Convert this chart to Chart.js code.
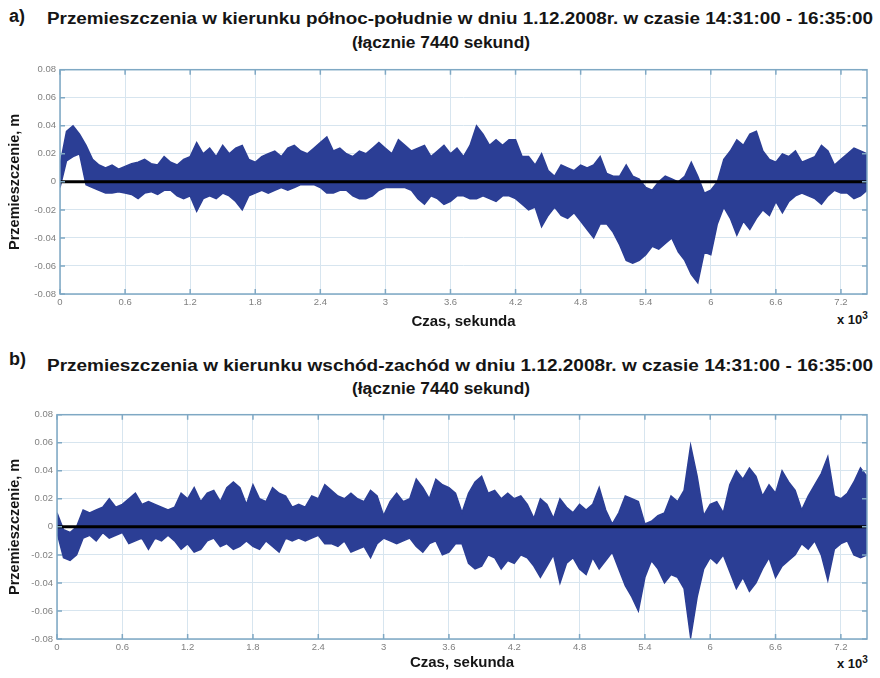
<!DOCTYPE html>
<html>
<head>
<meta charset="utf-8">
<script src="https://cdn.jsdelivr.net/npm/chart.js@4.4.0/dist/chart.umd.min.js"></script>
<style>
body{margin:0;background:#fff;width:880px;height:678px;position:relative;overflow:hidden;font-family:"Liberation Sans",Arial,sans-serif;color:#151515}
.t{position:absolute;font-weight:bold;white-space:nowrap;transform-origin:0 0}
canvas{position:absolute;left:0}
</style>
</head>
<body>
<div class="t" style="left:9px;top:6px;font-size:18px">a)</div>
<div class="t fit" data-w="826" style="left:47px;top:10px;font-size:16px">Przemieszczenia w kierunku północ-południe w dniu 1.12.2008r. w czasie 14:31:00 - 16:35:00</div>
<div class="t fit" data-w="178" style="left:352px;top:34px;font-size:16px">(łącznie 7440 sekund)</div>
<div class="t" style="left:837px;top:310px;font-size:13px">x 10<sup style="font-size:10px">3</sup></div>

<div class="t" style="left:9px;top:349px;font-size:18px">b)</div>
<div class="t fit" data-w="826" style="left:47px;top:357px;font-size:16px">Przemieszczenia w kierunku wschód-zachód w dniu 1.12.2008r. w czasie 14:31:00 - 16:35:00</div>
<div class="t fit" data-w="178" style="left:352px;top:380px;font-size:16px">(łącznie 7440 sekund)</div>
<div class="t" style="left:837px;top:654px;font-size:13px">x 10<sup style="font-size:10px">3</sup></div>

<canvas id="wykresA" width="880" height="280" style="top:60px"></canvas>
<canvas id="wykresB" width="880" height="273" style="top:405px"></canvas>

<script>
// czas w sekundach (co 60 s)
const czas = [0,60,120,180,240,300,360,420,480,540,
  600,660,720,780,840,900,960,1020,1080,1140,
  1200,1260,1320,1380,1440,1500,1560,1620,1680,1740,
  1800,1860,1920,1980,2040,2100,2160,2220,2280,2340,
  2400,2460,2520,2580,2640,2700,2760,2820,2880,2940,
  3000,3060,3120,3180,3240,3300,3360,3420,3480,3540,
  3600,3660,3720,3780,3840,3900,3960,4020,4080,4140,
  4200,4260,4320,4380,4440,4500,4560,4620,4680,4740,
  4800,4860,4920,4980,5040,5100,5160,5220,5280,5340,
  5400,5460,5520,5580,5640,5700,5760,5820,5880,5940,
  6000,6060,6120,6180,6240,6300,6360,6420,6480,6540,
  6600,6660,6720,6780,6840,6900,6960,7020,7080,7140,
  7200,7260,7320,7380,7440];

// a) polnoc-poludnie: gorna i dolna obwiednia przemieszczen [m]
const aGora = [0.012,0.036,0.040,0.034,0.026,0.016,0.012,0.010,0.012,0.009,
  0.011,0.013,0.014,0.016,0.013,0.012,0.018,0.014,0.012,0.016,
  0.018,0.028,0.020,0.024,0.018,0.026,0.020,0.024,0.026,0.016,
  0.014,0.018,0.020,0.022,0.018,0.024,0.026,0.022,0.020,0.024,
  0.028,0.032,0.022,0.024,0.020,0.018,0.022,0.020,0.024,0.028,
  0.024,0.020,0.030,0.026,0.022,0.024,0.026,0.018,0.022,0.026,
  0.020,0.024,0.018,0.026,0.040,0.034,0.026,0.030,0.026,0.030,
  0.030,0.018,0.018,0.012,0.020,0.008,0.004,0.012,0.010,0.008,
  0.012,0.010,0.012,0.018,0.006,0.004,0.004,0.012,0.004,0.002,
  -0.004,-0.006,0.000,0.004,0.002,0.000,0.004,0.014,0.004,-0.008,
  -0.006,0.000,0.016,0.022,0.030,0.026,0.034,0.036,0.022,0.016,
  0.014,0.020,0.018,0.022,0.014,0.016,0.018,0.026,0.022,0.012,
  0.016,0.020,0.024,0.022,0.020];
const aDol = [-0.004,0.015,0.018,0.020,-0.002,-0.004,-0.006,-0.008,-0.008,-0.007,
  -0.008,-0.009,-0.012,-0.008,-0.007,-0.009,-0.006,-0.006,-0.010,-0.012,
  -0.010,-0.021,-0.012,-0.010,-0.012,-0.008,-0.010,-0.014,-0.020,-0.010,
  -0.008,-0.006,-0.008,-0.006,-0.004,-0.006,-0.004,-0.002,-0.002,-0.002,
  -0.004,-0.008,-0.008,-0.006,-0.006,-0.010,-0.012,-0.012,-0.010,-0.006,
  -0.004,-0.004,-0.004,-0.004,-0.006,-0.012,-0.016,-0.010,-0.012,-0.016,
  -0.014,-0.010,-0.010,-0.012,-0.012,-0.010,-0.012,-0.014,-0.010,-0.010,
  -0.012,-0.016,-0.020,-0.018,-0.032,-0.024,-0.018,-0.024,-0.026,-0.022,
  -0.028,-0.034,-0.040,-0.030,-0.030,-0.036,-0.045,-0.056,-0.058,-0.056,
  -0.052,-0.046,-0.048,-0.044,-0.040,-0.050,-0.056,-0.066,-0.072,-0.050,
  -0.052,-0.030,-0.018,-0.026,-0.038,-0.028,-0.034,-0.026,-0.020,-0.024,
  -0.014,-0.022,-0.014,-0.010,-0.008,-0.010,-0.012,-0.016,-0.010,-0.006,
  -0.008,-0.008,-0.012,-0.010,-0.006];

// b) wschod-zachod
const bGora = [0.010,-0.002,-0.004,0.000,0.012,0.010,0.012,0.014,0.020,0.014,
  0.016,0.020,0.024,0.016,0.018,0.016,0.014,0.012,0.014,0.024,
  0.020,0.028,0.018,0.024,0.026,0.018,0.028,0.032,0.028,0.016,
  0.030,0.020,0.018,0.028,0.024,0.022,0.014,0.016,0.014,0.022,
  0.020,0.030,0.026,0.022,0.020,0.024,0.020,0.018,0.026,0.022,
  0.008,0.018,0.024,0.018,0.020,0.034,0.028,0.020,0.034,0.030,
  0.028,0.024,0.010,0.024,0.032,0.036,0.024,0.026,0.020,0.024,
  0.020,0.022,0.016,0.006,0.020,0.016,0.006,0.020,0.014,0.010,
  0.016,0.012,0.016,0.028,0.012,0.002,0.010,0.022,0.020,0.018,
  0.002,0.004,0.008,0.010,0.022,0.018,0.026,0.058,0.036,0.008,
  0.016,0.018,0.010,0.030,0.040,0.034,0.042,0.036,0.022,0.030,
  0.024,0.040,0.032,0.026,0.012,0.022,0.030,0.038,0.050,0.022,
  0.020,0.024,0.032,0.042,0.036];
const bDol = [-0.004,-0.022,-0.024,-0.020,-0.008,-0.006,-0.010,-0.004,-0.008,-0.006,
  -0.004,-0.012,-0.010,-0.008,-0.016,-0.008,-0.010,-0.006,-0.010,-0.016,
  -0.012,-0.018,-0.016,-0.010,-0.008,-0.014,-0.012,-0.016,-0.014,-0.010,
  -0.014,-0.016,-0.010,-0.014,-0.018,-0.008,-0.010,-0.008,-0.010,-0.008,
  -0.006,-0.012,-0.012,-0.014,-0.010,-0.018,-0.016,-0.014,-0.022,-0.012,
  -0.008,-0.010,-0.012,-0.010,-0.008,-0.014,-0.018,-0.012,-0.010,-0.020,
  -0.018,-0.012,-0.012,-0.026,-0.030,-0.028,-0.020,-0.022,-0.030,-0.024,
  -0.026,-0.020,-0.022,-0.028,-0.036,-0.028,-0.020,-0.040,-0.026,-0.022,
  -0.030,-0.034,-0.022,-0.030,-0.024,-0.018,-0.030,-0.042,-0.050,-0.060,
  -0.036,-0.024,-0.030,-0.040,-0.034,-0.036,-0.044,-0.079,-0.050,-0.030,
  -0.022,-0.026,-0.020,-0.032,-0.044,-0.036,-0.046,-0.040,-0.030,-0.022,
  -0.036,-0.028,-0.024,-0.020,-0.012,-0.016,-0.010,-0.020,-0.038,-0.016,
  -0.012,-0.010,-0.020,-0.022,-0.020];

const zeroX = [0, 7440];
const zeroY = [0, 0];
const xTicks = [0,600,1200,1800,2400,3000,3600,4200,4800,5400,6000,6600,7200];
const xTickLabels = ['0','0.6','1.2','1.8','2.4','3','3.6','4.2','4.8','5.4','6','6.6','7.2'];
const yTicks = [-0.08,-0.06,-0.04,-0.02,0,0.02,0.04,0.06,0.08];
const yTickLabels = ['-0.08','-0.06','-0.04','-0.02','0','0.02','0.04','0.06','0.08'];

const niebieski = '#2b3e95';
const krój = '"Liberation Sans", Arial, sans-serif';

// dopasowanie szerokosci tytulow
document.querySelectorAll('.fit').forEach(el => {
  const w = el.getBoundingClientRect().width;
  el.style.transform = 'scaleX(' + (Number(el.dataset.w) / w) + ')';
});

const ramka = {
  id: 'ramka',
  afterDatasetsDraw(chart) {
    const {ctx, chartArea: a, scales} = chart;
    ctx.save();
    ctx.strokeStyle = '#7fa8c4';
    ctx.lineWidth = 1.5;
    ctx.strokeRect(a.left, a.top, a.right - a.left, a.bottom - a.top);
    ctx.beginPath();
    scales.y.ticks.forEach(t => {
      const y = scales.y.getPixelForValue(t.value);
      ctx.moveTo(a.left, y); ctx.lineTo(a.left + 5, y);
      ctx.moveTo(a.right, y); ctx.lineTo(a.right - 5, y);
    });
    scales.x.ticks.forEach(t => {
      const x = scales.x.getPixelForValue(t.value);
      ctx.moveTo(x, a.top); ctx.lineTo(x, a.top + 5);
      ctx.moveTo(x, a.bottom); ctx.lineTo(x, a.bottom - 5);
    });
    ctx.stroke();
    ctx.restore();
  }
};

function wykres(id, gora, dol, yW, xH, titlePad) {
  new Chart(document.getElementById(id), {
    type: 'line',
    data: {
      labels: czas,
      datasets: [
        {data: zeroX.map((x, i) => ({x: x, y: zeroY[i]})), borderColor: '#000', borderWidth: 3, pointRadius: 0, fill: false},
        {data: gora, borderColor: niebieski, backgroundColor: niebieski, borderWidth: 1.5, pointRadius: 0, tension: 0, fill: '+1'},
        {data: dol, borderColor: niebieski, borderWidth: 1.5, pointRadius: 0, tension: 0, fill: false}
      ]
    },
    options: {
      responsive: false,
      animation: false,
      devicePixelRatio: 1,
      layout: {padding: {top: 6, right: 13, left: 0, bottom: 0}},
      plugins: {legend: {display: false}, tooltip: {enabled: false}},
      scales: {
        x: {
          type: 'linear', min: 0, max: 7440,
          afterBuildTicks: s => { s.ticks = xTicks.map(v => ({value: v})); },
          ticks: {autoSkip: false, maxRotation: 0, padding: 3,
            color: '#808080', font: {size: 9.5, family: krój},
            callback: (v, i) => xTickLabels[i]},
          grid: {color: '#d7e5ef', drawTicks: false},
          border: {display: false},
          title: {display: true, text: 'Czas, sekunda', color: '#151515',
            font: {size: 15, weight: 'bold', family: krój}, padding: {top: 0, bottom: titlePad}},
          afterFit: s => { s.height = xH; }
        },
        y: {
          min: -0.08, max: 0.08,
          afterBuildTicks: s => { s.ticks = yTicks.map(v => ({value: v})); },
          ticks: {padding: 4, color: '#808080', font: {size: 9.5, family: krój},
            callback: (v, i) => yTickLabels[i]},
          grid: {color: '#d7e5ef', drawTicks: false},
          border: {display: false},
          title: {display: true, text: 'Przemieszczenie, m', color: '#151515',
            font: {size: 14.5, weight: 'bold', family: krój}, padding: {top: 6, bottom: 0}},
          afterFit: s => { s.width = yW; }
        }
      }
    },
    plugins: [ramka]
  });
}

wykres('wykresA', aGora, aDol, 60, 46, 9);
wykres('wykresB', bGora, bDol, 57, 39, 6);
</script>
</body>
</html>
